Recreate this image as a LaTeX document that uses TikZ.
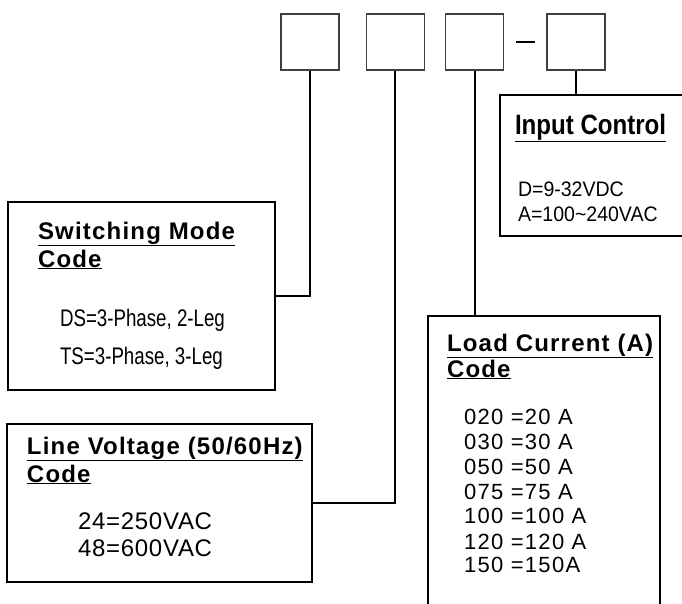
\documentclass[tikz,border=0pt]{standalone}
\usepackage{fontspec}
\setmainfont{Liberation Sans}
\newfontfamily\headfont[LetterSpace=5]{Liberation Sans}
\newfontfamily\ctrlfont[FakeStretch=0.86]{Liberation Sans}
\newfontfamily\legfont[FakeStretch=0.78]{Liberation Sans}
\newfontfamily\vdcfont[FakeStretch=0.93]{Liberation Sans}
\newfontfamily\vacfont[LetterSpace=3]{Liberation Sans}
\newfontfamily\ampfont[LetterSpace=6]{Liberation Sans}
\usetikzlibrary{positioning,calc}

\begin{document}
\begin{tikzpicture}[x=1pt, y=-1pt, line width=2pt, node distance=23pt,
  digit/.style={draw=black!75, line width=1.3pt, minimum width=58pt, minimum height=56pt, inner sep=0pt},
  panel/.style={draw, line width=2pt, inner sep=0pt},
  head/.style={anchor=base west, inner sep=0pt, font=\headfont\bfseries\fontsize{24}{28}\selectfont},
  entry/.style={anchor=base west, inner sep=0pt}]
\useasboundingbox (0,0) rectangle (682,603);
\clip (0,0) rectangle (682,603);

% code boxes
\node[digit] (c1) at (310,42) {};
\node[digit, right=26pt of c1] (c2) {};
\node[digit, right=20pt of c2] (c3) {};
\node[digit, right=42pt of c3] (c4) {};
\draw[line width=2.4pt] ($(c3.east)+(12,0)$) -- ($(c4.west)+(-11,0)$);

% panels
\node[panel, minimum width=267pt, minimum height=188pt] (sw) at (141.5,296) {};
\node[panel, minimum width=305pt, minimum height=158pt] (lv) at (159.5,503) {};
\node[panel, minimum width=232pt, minimum height=314pt] (lc) at (544,473) {};
\node[panel, minimum width=200pt, minimum height=141pt] (ic) at (600,165.5) {};

\draw (c1.south) |- (sw.east);
\draw (c2.south) |- (lv.east);
\draw (c3.south) -- (c3.south |- lc.north);
\draw (c4.south) -- (c4.south |- ic.north);

% switching mode
\node[head] (swt) at ($(sw.north west)+(30,38)$) {\underline{Switching Mode}};
\node[head] (swc) at ($(sw.north west)+(30,66)$) {\underline{Code}};
\node[entry, font=\legfont\fontsize{24}{28}\selectfont] (ds) at ($(sw.north west)+(52,125)$) {DS=3-Phase, 2-Leg};
\node[entry, font=\legfont\fontsize{24}{28}\selectfont] (ts) at ($(sw.north west)+(52,163)$) {TS=3-Phase, 3-Leg};

% line voltage
\node[head] (lvt) at ($(lv.north west)+(20,31)$) {\underline{Line Voltage (50/60Hz)}};
\node[head] (lvc) at ($(lv.north west)+(20,59)$) {\underline{Code}};
\node[entry, font=\vacfont\fontsize{24}{28}\selectfont] (v24) at ($(lv.north west)+(71,106)$) {24=250VAC};
\node[entry, font=\vacfont\fontsize{24}{28}\selectfont] (v48) at ($(lv.north west)+(71,133)$) {48=600VAC};

% load current
\node[head] (lct) at ($(lc.north west)+(19,36)$) {\underline{Load Current (A)}};
\node[head] (lcc) at ($(lc.north west)+(19,62)$) {\underline{Code}};
\foreach \txt/\yy [count=\i] in {020 =20 A/424, 030 =30 A/449, 050 =50 A/474, 075 =75 A/499,
    100 =100 A/523, 120 =120 A/549, 150 =150A/572}
  \node[entry, font=\ampfont\fontsize{22}{26}\selectfont] (amp\i) at (463,\yy) {\txt};

% input control
\node[entry, font=\ctrlfont\bfseries\fontsize{28}{32}\selectfont] (ict) at ($(ic.north west)+(15,40)$) {\underline{Input Control}};
\node[entry, font=\vdcfont\fontsize{21}{25}\selectfont] (dc) at ($(ic.north west)+(18,102)$) {D=9-32VDC};
\node[entry, font=\vdcfont\fontsize{21}{25}\selectfont] (ac) at ($(ic.north west)+(18,127)$) {A=100\char"7E 240VAC};
\end{tikzpicture}
\end{document}
